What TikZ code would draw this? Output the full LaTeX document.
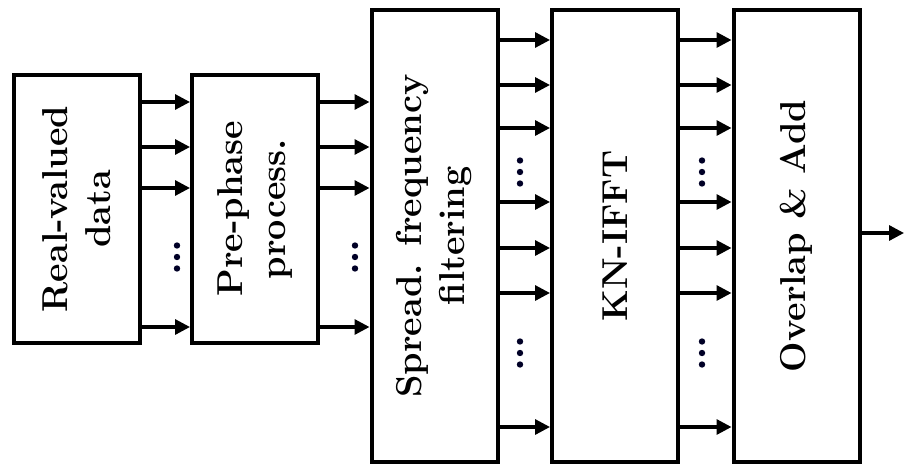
\documentclass[tikz,border=0pt]{standalone}
\usetikzlibrary{arrows.meta}
\begin{document}
\begin{tikzpicture}[x=0.5pt,y=-0.5pt,
  blk/.style={draw,line width=2pt,minimum width=63pt,inner sep=0pt},
  lbl/.style={rotate=90,align=center,font=\bfseries\fontsize{18}{21.5}\selectfont},
  arr/.style={line width=1.6pt,-{Triangle[length=7.5pt,width=7.5pt]}},
  dot/.style={fill=black!85!blue,draw=none}]
\useasboundingbox (0,0) rectangle (904,465);
\node[blk,minimum height=134pt] (b1) at (76.5,209) {};
\node[blk,minimum height=134pt] (b2) at (255,209) {};
\node[blk,minimum height=226pt] (b3) at (434.5,236) {};
\node[blk,minimum height=226pt] (b4) at (615,236) {};
\node[blk,minimum height=226pt] (b5) at (796.5,236) {};
\node[lbl] (t1) at (b1.center) {Real-valued\\data};
\node[lbl] (t2) at (b2.center) {Pre-phase\\process.};
\node[lbl] (t3) at (b3.center) {Spread. frequency\\filtering};
\node[lbl] (t4) at (b4.center) {KN-IFFT};
\node[lbl] (t5) at (b5.center) {Overlap \& Add};
\foreach \y in {102,147,188,327}{
  \draw[arr] (b1.east |- 0,\y) -- (b2.west |- 0,\y);
  \draw[arr] (b2.east |- 0,\y) -- (b3.west |- 0,\y);
}
\foreach \y in {40,85,128,202,248,293,427}{
  \draw[arr] (b3.east |- 0,\y) -- (b4.west |- 0,\y);
  \draw[arr] (b4.east |- 0,\y) -- (b5.west |- 0,\y);
}
\coordinate (out) at (904,233);
\draw[arr] (b5.east |- out) -- (out);
\foreach \x in {177,355}{
  \foreach \d in {-11.5,0,11.5}{
    \fill[dot] (\x,257+\d) circle (1.6pt);
  }
}
\foreach \x in {520,702}{
  \foreach \c in {172,353}{
    \foreach \d in {-11.5,0,11.5}{
      \fill[dot] (\x,\c+\d) circle (1.6pt);
    }
  }
}
\end{tikzpicture}
\end{document}
